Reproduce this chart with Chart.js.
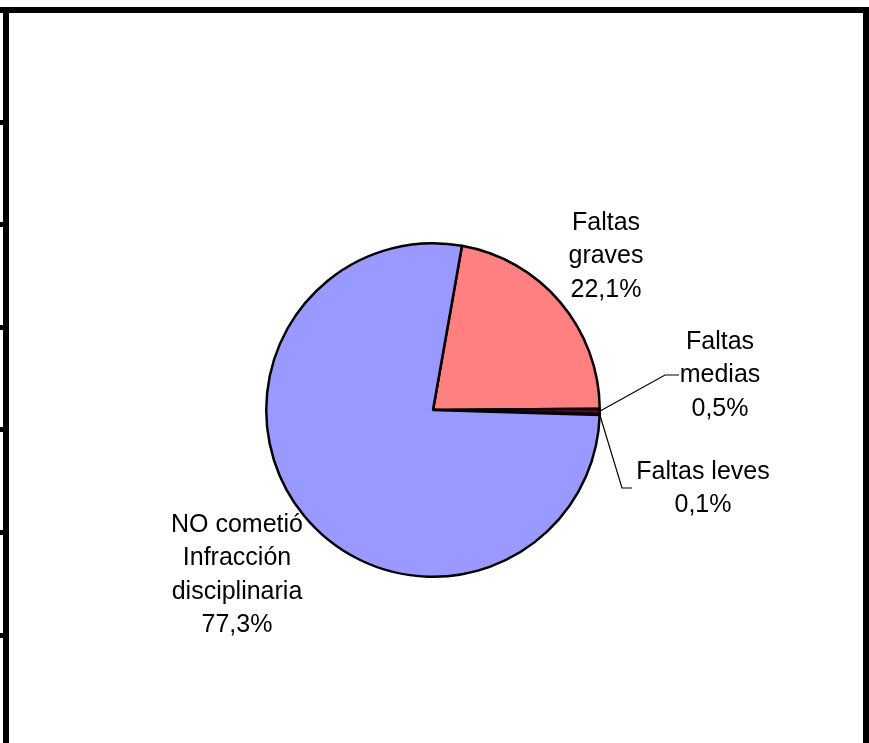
<!DOCTYPE html>
<html lang="es">
<head>
    <meta charset="UTF-8">
    <title>Infracciones disciplinarias</title>
    <script src="https://cdn.jsdelivr.net/npm/chart.js"></script>
    <style>
        html, body {
            margin: 0;
            padding: 0;
            background: white;
            overflow: hidden;
        }
        canvas {
            display: block;
        }
    </style>
</head>
<body>
    <canvas id="pieChart" width="869" height="743"></canvas>
    <script>
        // datos
        const categories = ['Faltas graves', 'Faltas medias', 'Faltas leves', 'NO cometió Infracción disciplinaria'];
        const percentages = [22.1, 0.5, 0.1, 77.3];
        const labelLines = [
            ['Faltas', 'graves', '22,1%'],
            ['Faltas', 'medias', '0,5%'],
            ['Faltas leves', '0,1%'],
            ['NO cometió', 'Infracción', 'disciplinaria', '77,3%']
        ];
        const sliceColors = ['#FF8080', '#660033', '#FFFFCC', '#9999FF'];

        // posiciones de las etiquetas (centro del texto) y lineas guia
        const labelPos = [
            { x: 606, y: 223 },
            { x: 720, y: 342 },
            { x: 703, y: 472 },
            { x: 237, y: 525 }
        ];
        const leaderLines = [
            null,
            [[665, 375], [679, 375]],
            [[622, 488], [632, 488]],
            null
        ];

        const framePlugin = {
            id: 'frame',
            beforeDraw(chart) {
                const c = chart.ctx;
                c.save();
                c.fillStyle = 'white';
                c.fillRect(0, 0, chart.width, chart.height);
                c.fillStyle = 'black';
                c.fillRect(0, 7, 869, 6);
                c.fillRect(3, 7, 6, 743);
                c.fillRect(863, 7, 6, 743);
                [122, 224, 327, 429, 532, 635].forEach(y => c.fillRect(0, y - 2, 9, 5));
                c.restore();
            }
        };

        const labelPlugin = {
            id: 'sliceLabels',
            afterDatasetsDraw(chart) {
                const c = chart.ctx;
                const meta = chart.getDatasetMeta(0);
                c.save();
                c.font = '25px "Liberation Sans", Arial, sans-serif';
                c.fillStyle = 'black';
                c.textAlign = 'center';
                c.textBaseline = 'middle';
                labelLines.forEach((lines, i) => {
                    const p = labelPos[i];
                    lines.forEach((t, j) => c.fillText(t, p.x, p.y + j * 33.5));
                    if (leaderLines[i]) {
                        const arc = meta.data[i];
                        const mid = (arc.startAngle + arc.endAngle) / 2;
                        const sx = arc.x + Math.cos(mid) * arc.outerRadius;
                        const sy = arc.y + Math.sin(mid) * arc.outerRadius;
                        c.beginPath();
                        c.lineWidth = 1.2;
                        c.strokeStyle = 'black';
                        c.moveTo(sx, sy);
                        leaderLines[i].forEach(pt => c.lineTo(pt[0], pt[1]));
                        c.stroke();
                    }
                });
                c.restore();
            }
        };

        new Chart(document.getElementById('pieChart'), {
            type: 'pie',
            data: {
                labels: categories,
                datasets: [{
                    data: percentages,
                    backgroundColor: sliceColors,
                    borderColor: '#000000',
                    borderWidth: 2.5
                }]
            },
            options: {
                responsive: false,
                animation: false,
                devicePixelRatio: 1,
                rotation: 10,
                layout: {
                    padding: { left: 265, right: 268, top: 242, bottom: 165 }
                },
                plugins: {
                    legend: { display: false },
                    tooltip: { enabled: false }
                }
            },
            plugins: [framePlugin, labelPlugin]
        });
    </script>
</body>
</html>
